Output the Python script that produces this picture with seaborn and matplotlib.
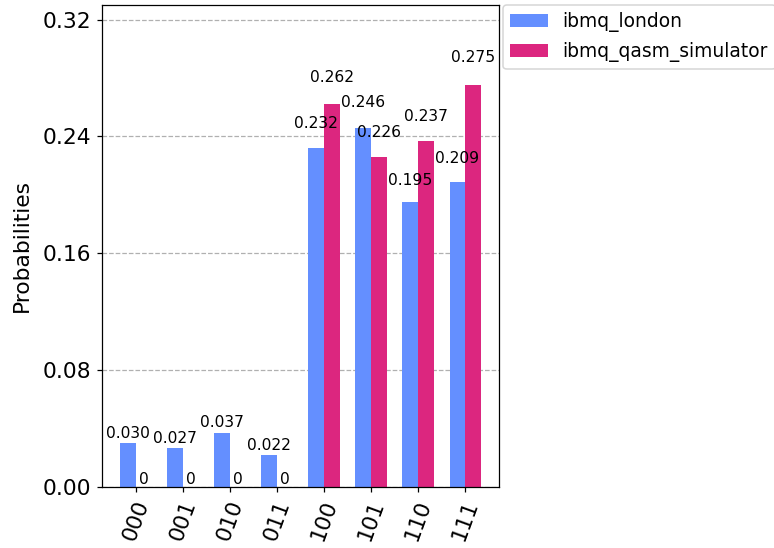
import numpy as np
import pandas as pd
import matplotlib
matplotlib.use("Agg")
import matplotlib.pyplot as plt
from matplotlib.ticker import MaxNLocator, FormatStrFormatter
import seaborn as sns

# Measurement outcomes and their probabilities for each backend
states = ["000", "001", "010", "011", "100", "101", "110", "111"]
london = [0.030, 0.027, 0.037, 0.022, 0.232, 0.246, 0.195, 0.209]
simulator = [0.0, 0.0, 0.0, 0.0, 0.262, 0.226, 0.237, 0.275]
backends = ["ibmq_london", "ibmq_qasm_simulator"]
colors = ["#648fff", "#dc267f"]

df = pd.DataFrame({
    "state": states * 2,
    "prob": london + simulator,
    "backend": [backends[0]] * len(states) + [backends[1]] * len(states),
})

fig = plt.figure(figsize=(774 / 112, 548 / 112), dpi=112)
ax = fig.add_axes([102 / 774, 1 - 487 / 548, (499 - 102) / 774, (487 - 5) / 548])

sns.barplot(data=df, x="state", y="prob", hue="backend", palette=colors,
            width=2 / 3, gap=0, saturation=1, ax=ax, zorder=2, errorbar=None)

# value labels above each bar
for cont in ax.containers:
    for rect in cont:
        h = rect.get_height()
        txt = "%.3f" % h if h >= 1e-3 else "0"
        ax.text(rect.get_x() + rect.get_width() / 2.0, 1.05 * h, txt,
                ha="center", va="bottom", zorder=3)

ax.set_xlabel("")
ax.set_ylabel("Probabilities", fontsize=14, labelpad=7)
ax.set_xticks(range(len(states)))
ax.set_xticklabels(states, fontsize=14, rotation=70)
ax.set_xlim(-0.717, len(states) - 1 + 0.717)
ax.set_ylim(0.0, 1.2 * max(london + simulator))
ax.yaxis.set_major_locator(MaxNLocator(5))
ax.yaxis.set_major_formatter(FormatStrFormatter("%.2f"))
ax.tick_params(axis="y", labelsize=14)
ax.grid(which="major", axis="y", zorder=0, linestyle="--")
ax.set_axisbelow(True)

ax.legend(loc="upper left", bbox_to_anchor=(1.01, 1.0), ncol=1,
          borderaxespad=0, frameon=True, fontsize=12)

fig.savefig("out.png", dpi=112)
